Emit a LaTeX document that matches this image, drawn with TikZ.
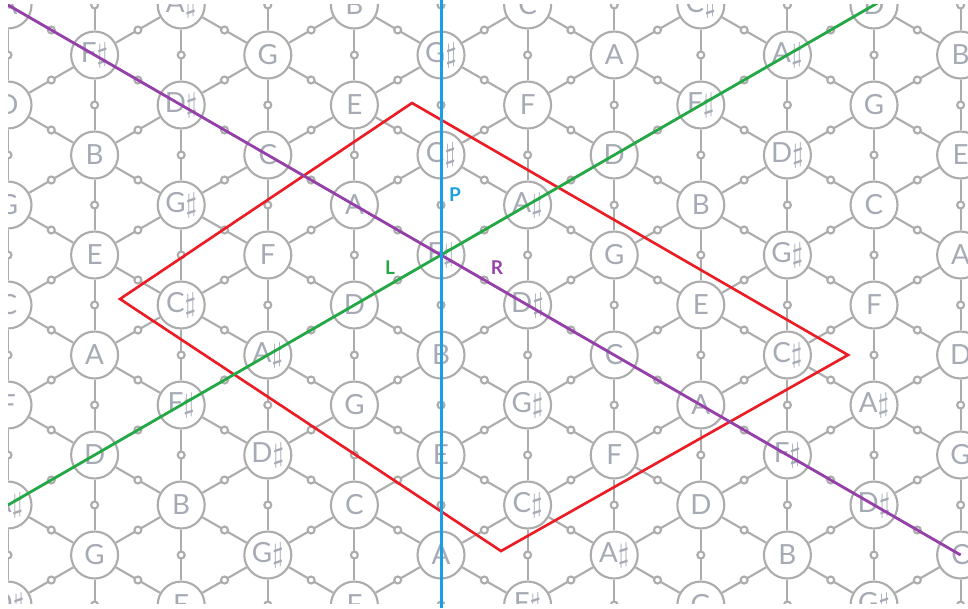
\documentclass[tikz,border=0pt]{standalone}
\usepackage{fontspec}
\setsansfont{Lato}
\usepackage{xcolor}
\definecolor{latticegrey}{RGB}{172, 172, 172}
\definecolor{notegrey}{RGB}{166, 170, 180}
\definecolor{parallelblue}{RGB}{24, 160, 226}
\definecolor{leadinggreen}{RGB}{36, 168, 70}
\definecolor{relativepurple}{RGB}{148, 64, 168}
\definecolor{domainred}{RGB}{236, 28, 36}
\usepackage{tikz}
\usetikzlibrary{calc}

% pitch class -> note name
\newcommand{\notename}[1]{\ifcase#1 C\or C$\sharp$\or D\or D$\sharp$\or E\or F\or F$\sharp$\or G\or G$\sharp$\or A\or A$\sharp$\or B\fi}

\begin{document}
\begin{tikzpicture}[
    note/.style={circle, draw=latticegrey, line width=0.6pt, fill=white, minimum size=4.7mm, inner sep=0pt,
                 font=\sffamily\fontsize{7.9}{9}\selectfont, text=notegrey},
    joint/.style={circle, draw=latticegrey, line width=0.6pt, fill=white, minimum size=0.7mm, inner sep=0pt},
    link/.style={latticegrey, line width=0.6pt},
    move/.style={font=\sffamily\bfseries\fontsize{5.4}{6}\selectfont, inner sep=0pt}]

    \useasboundingbox (0,0) rectangle (9.68,6.08);

    \begin{scope}
    \clip (0.08,0.05) rectangle (9.68,6.04);

    % up = fifth, up-right = major third
    \foreach \i in {-6,...,7}
        \foreach \k in {-8,...,7} {
            \pgfmathtruncatemacro\p{mod(6+4*\i+7*\k+120,12)}
            \node[note] (n\i-\k) at ({4.41+0.866*\i}, {3.53+0.5*\i+\k}) {\notename{\p}};
        }

    \foreach \i in {-6,...,6}
        \foreach \k in {-7,...,6} {
            \pgfmathtruncatemacro\ii{\i+1}
            \pgfmathtruncatemacro\ku{\k+1}
            \pgfmathtruncatemacro\kd{\k-1}
            \draw[link] (n\i-\k) -- node[joint] {} (n\i-\ku);
            \draw[link] (n\i-\k) -- node[joint] {} (n\ii-\k);
            \draw[link] (n\i-\k) -- node[joint] {} (n\ii-\kd);
        }

    \draw[domainred, line width=0.75pt] (1.20,3.09) -- (4.12,5.05) -- (8.48,2.53) -- (5.01,0.57) -- cycle;

    \draw[leadinggreen, line width=0.8pt] ($(n0-0)+(210:6)$) -- ($(n0-0)+(30:6)$);
    \draw[relativepurple, line width=0.8pt] ($(n0-0)+(150:6)$) -- ($(n0-0)+(-30:6)$);
    \end{scope}

    \draw[parallelblue, line width=0.85pt] ($(n0-0)+(0,-3.53)$) -- ($(n0-0)+(0,2.55)$);

    \node[move, parallelblue] (plabel) at (4.55,4.13) {P};
    \node[move, leadinggreen] (llabel) at (3.90,3.40) {L};
    \node[move, relativepurple] (rlabel) at (4.97,3.40) {R};
\end{tikzpicture}
\end{document}
